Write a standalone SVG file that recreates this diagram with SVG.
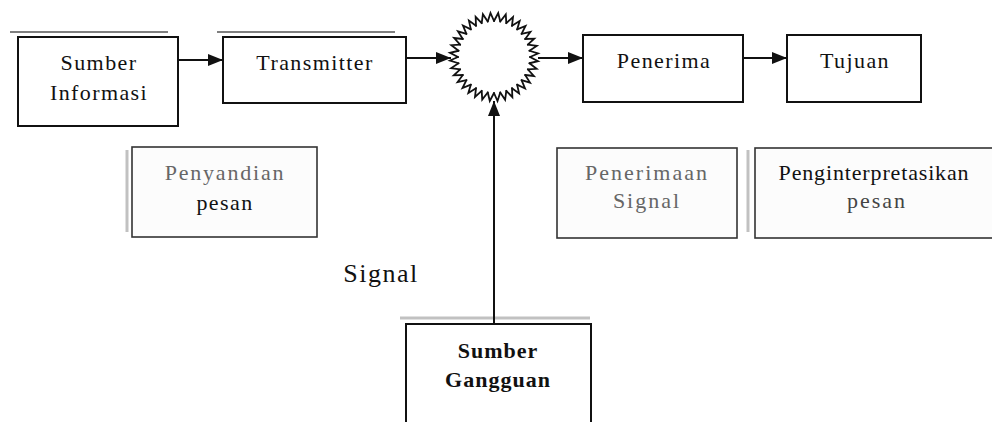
<svg xmlns="http://www.w3.org/2000/svg" width="992" height="422" viewBox="0 0 992 422">
  <style>
    .box { fill: #ffffff; stroke: #111; stroke-width: 2; }
    .box2 { fill: #fcfcfc; stroke: #333; stroke-width: 1.6; }
    .t { font-family: "Liberation Serif", "Times New Roman", serif; font-size: 22px; fill: #111; text-anchor: middle; letter-spacing: 1.4px; }
    .g { fill: #666; }
    .b { font-weight: bold; letter-spacing: 1px; }
    .line { stroke: #111; stroke-width: 2; fill: none; }
    .scan { stroke: #999; stroke-width: 3; opacity: 0.6; }
    .scan-dark { stroke: #555; stroke-width: 2; opacity: 0.75; }
  </style>
  <defs>
    <marker id="arrow" viewBox="0 0 15 12" refX="15" refY="6" markerWidth="15" markerHeight="12" markerUnits="userSpaceOnUse" orient="auto">
      <path d="M0,0 L15,6 L0,12 Z" fill="#111"/>
    </marker>
    <polyline id="tooth" points="36,0 44,4.2 35.45,6.25" fill="none" stroke="#111" stroke-width="1.8" stroke-linejoin="miter" stroke-linecap="round"/>
  </defs>

  <rect width="992" height="422" fill="#ffffff"/>

  <!-- faint scan edges -->
  <line class="scan-dark" x1="10" y1="32" x2="168" y2="32"/>
  <line class="scan-dark" x1="217" y1="32" x2="395" y2="32"/>
  <line class="scan" x1="127" y1="150" x2="127" y2="232"/>
  <line class="scan" x1="748" y1="150" x2="748" y2="232" stroke-width="5"/>
  <line class="scan" x1="400" y1="318" x2="590" y2="318"/>

  <g id="sumber-informasi">
    <rect class="box" x="18" y="37" width="160" height="89"/>
    <text class="t" x="99" y="70">Sumber</text>
    <text class="t" x="99" y="100">Informasi</text>
  </g>

  <g id="transmitter">
    <rect class="box" x="223" y="37" width="183" height="66"/>
    <text class="t" x="315" y="70">Transmitter</text>
  </g>

  <g id="channel">
    <g transform="translate(494,57)">
      <use href="#tooth" transform="rotate(0)"/>
      <use href="#tooth" transform="rotate(10)"/>
      <use href="#tooth" transform="rotate(20)"/>
      <use href="#tooth" transform="rotate(30)"/>
      <use href="#tooth" transform="rotate(40)"/>
      <use href="#tooth" transform="rotate(50)"/>
      <use href="#tooth" transform="rotate(60)"/>
      <use href="#tooth" transform="rotate(70)"/>
      <use href="#tooth" transform="rotate(80)"/>
      <use href="#tooth" transform="rotate(90)"/>
      <use href="#tooth" transform="rotate(100)"/>
      <use href="#tooth" transform="rotate(110)"/>
      <use href="#tooth" transform="rotate(120)"/>
      <use href="#tooth" transform="rotate(130)"/>
      <use href="#tooth" transform="rotate(140)"/>
      <use href="#tooth" transform="rotate(150)"/>
      <use href="#tooth" transform="rotate(160)"/>
      <use href="#tooth" transform="rotate(170)"/>
      <use href="#tooth" transform="rotate(180)"/>
      <use href="#tooth" transform="rotate(190)"/>
      <use href="#tooth" transform="rotate(200)"/>
      <use href="#tooth" transform="rotate(210)"/>
      <use href="#tooth" transform="rotate(220)"/>
      <use href="#tooth" transform="rotate(230)"/>
      <use href="#tooth" transform="rotate(240)"/>
      <use href="#tooth" transform="rotate(250)"/>
      <use href="#tooth" transform="rotate(260)"/>
      <use href="#tooth" transform="rotate(270)"/>
      <use href="#tooth" transform="rotate(280)"/>
      <use href="#tooth" transform="rotate(290)"/>
      <use href="#tooth" transform="rotate(300)"/>
      <use href="#tooth" transform="rotate(310)"/>
      <use href="#tooth" transform="rotate(320)"/>
      <use href="#tooth" transform="rotate(330)"/>
      <use href="#tooth" transform="rotate(340)"/>
      <use href="#tooth" transform="rotate(350)"/>
    </g>
  </g>

  <g id="penerima">
    <rect class="box" x="583" y="35" width="160" height="67"/>
    <text class="t" x="664" y="68">Penerima</text>
  </g>

  <g id="tujuan">
    <rect class="box" x="787" y="35" width="134" height="67"/>
    <text class="t" x="855" y="68">Tujuan</text>
  </g>

  <g id="penyandian">
    <rect class="box2" x="132" y="147" width="185" height="90"/>
    <text class="t g" x="225" y="180" style="letter-spacing:1.8px">Penyandian</text>
    <text class="t" x="225" y="210">pesan</text>
  </g>

  <g id="penerimaan">
    <rect class="box2" x="557" y="148" width="180" height="90"/>
    <text class="t g" x="647" y="180" style="letter-spacing:2px">Penerimaan</text>
    <text class="t g" x="647" y="208" style="letter-spacing:2px">Signal</text>
  </g>

  <g id="penginterpretasikan">
    <rect class="box2" x="755" y="148" width="245" height="90"/>
    <text class="t" x="874" y="180" style="letter-spacing:0.85px">Penginterpretasikan</text>
    <text class="t g" x="877" y="208" style="letter-spacing:2px;fill:#444">pesan</text>
  </g>

  <g id="signal-label">
    <text class="t" x="381" y="282" style="font-size:26px;letter-spacing:1.5px">Signal</text>
  </g>

  <g id="sumber-gangguan">
    <rect class="box" x="406" y="324" width="185" height="110"/>
    <text class="t b" x="498" y="358">Sumber</text>
    <text class="t b" x="498" y="387">Gangguan</text>
  </g>

  <g id="connectors">
    <line class="line" x1="178" y1="60" x2="223" y2="60" marker-end="url(#arrow)"/>
    <line class="line" x1="406" y1="58" x2="451" y2="58" marker-end="url(#arrow)"/>
    <line class="line" x1="538" y1="58" x2="583" y2="58" marker-end="url(#arrow)"/>
    <line class="line" x1="743" y1="58" x2="787" y2="58" marker-end="url(#arrow)"/>
    <line class="line" x1="494" y1="324" x2="494" y2="101" marker-end="url(#arrow)"/>
  </g>
</svg>
